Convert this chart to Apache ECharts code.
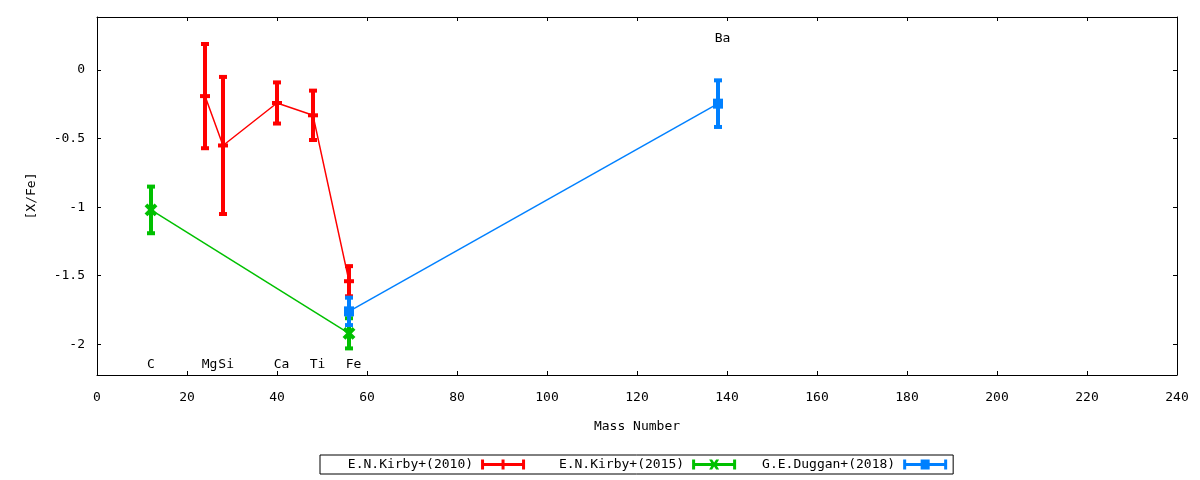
<!DOCTYPE html>
<html>
<head>
<meta charset="utf-8">
<script src="https://cdn.jsdelivr.net/npm/echarts@6/dist/echarts.min.js"></script>
<style>
html,body{margin:0;padding:0;background:#fff;}
#chart{width:1200px;height:480px;}
</style>
</head>
<body>
<div id="chart"></div>
<script>
// ---- data ----
const kirby2010Name = 'E.N.Kirby+(2010)';
const kirby2010X = [24, 28, 40, 48, 56];
const kirby2010Y = [-0.19, -0.55, -0.24, -0.33, -1.54];
const kirby2010Err = [0.38, 0.50, 0.15, 0.18, 0.11];

const kirby2015Name = 'E.N.Kirby+(2015)';
const kirby2015X = [12, 56];
const kirby2015Y = [-1.02, -1.92];
const kirby2015Err = [0.17, 0.11];

const duggan2018Name = 'G.E.Duggan+(2018)';
const duggan2018X = [56, 138];
const duggan2018Y = [-1.76, -0.245];
const duggan2018Err = [0.10, 0.17];

const elementNames = ['C', 'Mg', 'Si', 'Ca', 'Ti', 'Fe', 'Ba'];
const elementX = [12, 25, 28.7, 41, 49, 57, 139];
const elementY = [-2.145, -2.145, -2.145, -2.145, -2.145, -2.145, 0.232];

const yTicks = [-2, -1.5, -1, -0.5, 0];

// ---- helpers ----
const FONT = 'DejaVu Sans Mono';
const RED = '#ff0000', GREEN = '#00c000', BLUE = '#0080ff';

function zip3(a, b, c) { return a.map((v, i) => [v, b[i], c[i]]); }
function zip2(a, b) { return a.map((v, i) => [v, b[i]]); }

function errRender(marker) {
  return function (params, api) {
    const x = api.value(0), y = api.value(1), e = api.value(2);
    const c = api.coord([x, y]);
    const hi = api.coord([x, y + e]);
    const lo = api.coord([x, y - e]);
    const color = api.visual('color');
    const cap = 4;
    const st = () => ({ stroke: color, lineWidth: 4, fill: null });
    const ch = [
      { type: 'line', shape: { x1: c[0], y1: hi[1], x2: c[0], y2: lo[1] }, style: st() },
      { type: 'line', shape: { x1: c[0] - cap, y1: hi[1], x2: c[0] + cap, y2: hi[1] }, style: st() },
      { type: 'line', shape: { x1: c[0] - cap, y1: lo[1], x2: c[0] + cap, y2: lo[1] }, style: st() }
    ];
    if (marker === 'plus') {
      ch.push({ type: 'line', shape: { x1: c[0] - 5, y1: c[1], x2: c[0] + 5, y2: c[1] }, style: st() });
    } else if (marker === 'cross') {
      ch.push({ type: 'line', shape: { x1: c[0] - 5, y1: c[1] - 5, x2: c[0] + 5, y2: c[1] + 5 }, style: st() });
      ch.push({ type: 'line', shape: { x1: c[0] - 5, y1: c[1] + 5, x2: c[0] + 5, y2: c[1] - 5 }, style: st() });
    } else if (marker === 'square') {
      ch.push({ type: 'rect', shape: { x: c[0] - 5, y: c[1] - 5, width: 10, height: 10 }, style: { fill: color } });
    }
    return { type: 'group', children: ch };
  };
}

const capPath = 'M0,0 h3 v3.5 h38 v-3.5 h3 v10 h-3 v-3.5 h-38 v3.5 h-3 Z ';
const iconPlus = 'path://' + capPath + 'M20.5,0 h3 v10 h-3 Z';
const iconCross = 'path://' + capPath + 'M17,0 h3 l2,3 l2,-3 h3 l-3,5 l3,5 h-3 l-2,-3 l-2,3 h-3 l3,-5 Z';
const iconSquare = 'path://' + capPath + 'M17.5,0 h9 v10 h-9 Z';

function lineSeries(name, xs, ys, color) {
  return {
    type: 'line', name: name, data: zip2(xs, ys), symbol: 'none',
    lineStyle: { color: color, width: 1.5 }, itemStyle: { color: color },
    animation: false, silent: true
  };
}
function barSeries(name, xs, ys, es, color, marker) {
  return {
    type: 'custom', name: name, data: zip3(xs, ys, es),
    renderItem: errRender(marker), itemStyle: { color: color },
    animation: false, silent: true
  };
}

const chart = echarts.init(document.getElementById('chart'));
const axisLineStyle = { color: '#000', width: 1 };
const labelStyle = { fontFamily: FONT, fontSize: 13, color: '#000' };

chart.setOption({
  backgroundColor: '#fff',
  animation: false,
  grid: { left: 97, right: 23, top: 17, bottom: 105 },
  xAxis: [
    {
      type: 'value', min: 0, max: 240, interval: 20, position: 'bottom',
      name: 'Mass Number', nameLocation: 'middle', nameGap: 45,
      nameTextStyle: labelStyle,
      axisLine: { show: true, onZero: false, lineStyle: axisLineStyle },
      axisTick: { show: true, inside: true, length: 4, lineStyle: axisLineStyle },
      axisLabel: Object.assign({ margin: 16 }, labelStyle),
      splitLine: { show: false }
    },
    {
      type: 'value', min: 0, max: 240, interval: 20, position: 'top',
      axisLine: { show: true, onZero: false, lineStyle: axisLineStyle },
      axisTick: { show: true, inside: true, length: 4, lineStyle: axisLineStyle },
      axisLabel: { show: false }, splitLine: { show: false }
    }
  ],
  yAxis: [
    {
      type: 'value', min: -2.224, max: 0.387, position: 'left',
      name: '[X/Fe]', nameLocation: 'middle', nameGap: 59, nameRotate: 90,
      nameTextStyle: labelStyle,
      axisLine: { show: true, onZero: false, lineStyle: axisLineStyle },
      axisTick: { show: true, inside: true, length: 4, lineStyle: axisLineStyle, customValues: yTicks },
      axisLabel: Object.assign({ margin: 12, customValues: yTicks }, labelStyle),
      splitLine: { show: false }
    },
    {
      type: 'value', min: -2.224, max: 0.387, position: 'right',
      axisLine: { show: true, onZero: false, lineStyle: axisLineStyle },
      axisTick: { show: true, inside: true, length: 4, lineStyle: axisLineStyle, customValues: yTicks },
      axisLabel: { show: false, customValues: yTicks }, splitLine: { show: false }
    }
  ],
  legend: {
    left: 320, top: 455,
    align: 'right',
    itemWidth: 44, itemHeight: 10, itemGap: 26,
    padding: [3, 6, 3, 20],
    borderColor: '#000', borderWidth: 1, borderRadius: 0,
    backgroundColor: '#fff',
    formatter: n => n.padStart(17, ' '),
    textStyle: { fontFamily: FONT, fontSize: 13, color: '#000', padding: [0, 3, 0, 0] },
    selectedMode: false,
    data: [
      { name: kirby2010Name, icon: iconPlus, itemStyle: { color: RED } },
      { name: kirby2015Name, icon: iconCross, itemStyle: { color: GREEN } },
      { name: duggan2018Name, icon: iconSquare, itemStyle: { color: BLUE } }
    ]
  },
  series: [
    barSeries(kirby2010Name, kirby2010X, kirby2010Y, kirby2010Err, RED, 'plus'),
    lineSeries(kirby2010Name, kirby2010X, kirby2010Y, RED),
    barSeries(kirby2015Name, kirby2015X, kirby2015Y, kirby2015Err, GREEN, 'cross'),
    lineSeries(kirby2015Name, kirby2015X, kirby2015Y, GREEN),
    barSeries(duggan2018Name, duggan2018X, duggan2018Y, duggan2018Err, BLUE, 'square'),
    lineSeries(duggan2018Name, duggan2018X, duggan2018Y, BLUE),
    {
      type: 'custom', name: 'labels', data: elementX.map((x, i) => [x, elementY[i], i]),
      animation: false, silent: true,
      renderItem: function (params, api) {
        const c = api.coord([api.value(0), api.value(1)]);
        return {
          type: 'text', x: c[0], y: c[1],
          style: { text: elementNames[api.value(2)], fill: '#000', font: '13px ' + FONT, textAlign: 'center', textVerticalAlign: 'middle' }
        };
      }
    }
  ]
});
</script>
</body>
</html>
